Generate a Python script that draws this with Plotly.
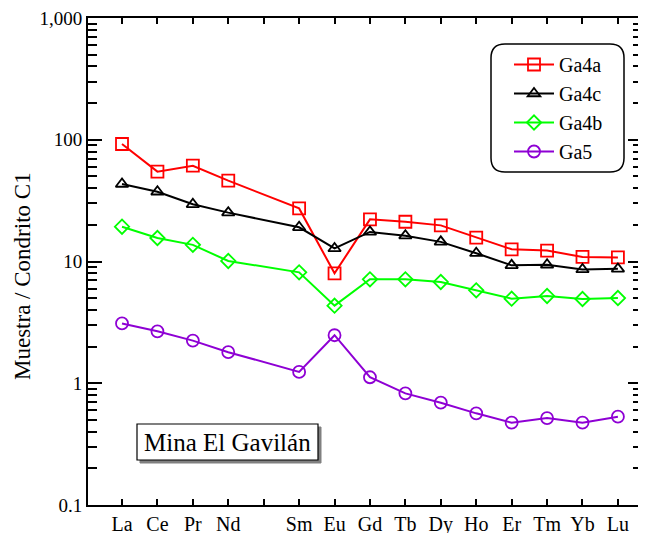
import plotly.graph_objects as go

elements = ["La", "Ce", "Pr", "Nd", "", "Sm", "Eu", "Gd", "Tb", "Dy", "Ho", "Er", "Tm", "Yb", "Lu"]
positions = [1, 2, 3, 4, 6, 7, 8, 9, 10, 11, 12, 13, 14, 15]

ga4a = [92.3, 54.7, 61.2, 46.1, 27.3, 8.0, 22.2, 21.2, 19.8, 15.7, 12.6, 12.3, 10.9, 10.8]
ga4c = [43.3, 37.4, 29.5, 25.2, 19.1, 12.8, 17.5, 16.3, 14.5, 11.7, 9.3, 9.4, 8.6, 8.7]
ga4b = [19.3, 15.6, 13.7, 10.1, 8.15, 4.34, 7.14, 7.14, 6.79, 5.80, 4.95, 5.21, 4.92, 5.01]
ga5 = [3.10, 2.67, 2.24, 1.80, 1.24, 2.48, 1.12, 0.826, 0.692, 0.566, 0.474, 0.518, 0.474, 0.531]

series = [
    ("Ga4a", ga4a, "#FF0000", "square-open", 12),
    ("Ga4c", ga4c, "#000000", "triangle-up-open", 11),
    ("Ga4b", ga4b, "#00FF00", "diamond-open", 11),
    ("Ga5", ga5, "#8E00D4", "circle-open", 12),
]

FONT = "Times New Roman, Liberation Serif, Tinos, serif"

# page body has an 8px margin: figure origin sits at (8, 8) in the window
OFF = 8
FW, FH = 646 - OFF, 533 - OFF
# plot area in window pixels
L, R, T, B = 88, 642, 18, 505
def fx(x): return (x - L) / (R - L)
def fy(y): return 1 - (y - T) / (B - T)

fig = go.Figure()
for name, vals, color, sym, size in series:
    fig.add_trace(go.Scatter(
        x=positions, y=vals, name=name, mode="lines+markers",
        line=dict(color=color, width=2),
        marker=dict(symbol=sym, size=size, color=color, line=dict(color=color, width=1.8)),
    ))

fig.update_layout(
    width=FW, height=FH,
    margin=dict(l=L - OFF, r=646 - R, t=T - OFF, b=533 - B),
    paper_bgcolor="white", plot_bgcolor="white",
    font=dict(family=FONT, size=18, color="black"),
    showlegend=True,
    legend=dict(
        x=fx(509), y=fy(45), xanchor="left", yanchor="top",
        bgcolor="rgba(0,0,0,0)", borderwidth=0,
        font=dict(family=FONT, size=20),
        tracegroupgap=0, itemwidth=40,
    ),
    xaxis=dict(
        range=[0.04, 15.68], automargin=False, ticklabeloverflow="allow",
        tickmode="array", tickvals=list(range(1, 16)), ticktext=elements,
        ticks="inside", ticklen=6, tickwidth=1.5, tickcolor="black",
        showline=True, linewidth=2, linecolor="black", mirror="ticks",
        showgrid=False, zeroline=False,
        tickfont=dict(family=FONT, size=20),
    ),
    yaxis=dict(
        type="log", range=[-1, 3], automargin=False, ticklabeloverflow="allow",
        tickmode="array", tickvals=[0.1, 1, 10, 100, 1000],
        ticktext=["0.1", "1", "10", "100", "1,000"],
        ticks="inside", ticklen=14, tickwidth=1.5, tickcolor="black",
        minor=dict(ticks="inside", ticklen=9, tickwidth=1.5, tickcolor="black",
                   dtick="D1", showgrid=False),
        showline=True, linewidth=2, linecolor="black", mirror="ticks",
        showgrid=False, zeroline=False,
        tickfont=dict(family=FONT, size=19),
    ),
)

# y-axis title
fig.add_annotation(
    xref="paper", yref="paper", x=fx(22), y=fy(276),
    text="Muestra / Condrito C1", textangle=-90, showarrow=False,
    font=dict(family=FONT, size=23, color="black"),
    xanchor="center", yanchor="middle",
)

# rounded legend frame
x0, x1, y0, y1, r = 491, 624, 44, 172, 14
path = (f"M {fx(x0+r)},{fy(y0)} L {fx(x1-r)},{fy(y0)} "
        f"Q {fx(x1)},{fy(y0)} {fx(x1)},{fy(y0+r)} L {fx(x1)},{fy(y1-r)} "
        f"Q {fx(x1)},{fy(y1)} {fx(x1-r)},{fy(y1)} L {fx(x0+r)},{fy(y1)} "
        f"Q {fx(x0)},{fy(y1)} {fx(x0)},{fy(y1-r)} L {fx(x0)},{fy(y0+r)} "
        f"Q {fx(x0)},{fy(y0)} {fx(x0+r)},{fy(y0)} Z")
fig.add_shape(type="path", xref="paper", yref="paper", path=path,
              line=dict(color="black", width=1.5), fillcolor="rgba(0,0,0,0)", layer="above")

# label box with shadow
bx0, bx1, by0, by1 = 137, 318, 424, 460
fig.add_shape(type="rect", xref="paper", yref="paper",
              x0=fx(bx0 + 3), x1=fx(bx1 + 3), y0=fy(by1 + 3), y1=fy(by0 + 3),
              line=dict(color="#808080", width=1), fillcolor="#808080", layer="above")
fig.add_shape(type="rect", xref="paper", yref="paper",
              x0=fx(bx0), x1=fx(bx1), y0=fy(by1), y1=fy(by0),
              line=dict(color="black", width=1.2), fillcolor="white", layer="above")
fig.add_annotation(
    xref="paper", yref="paper", x=fx((bx0 + bx1) / 2), y=fy((by0 + by1) / 2),
    text="Mina El Gavilán", showarrow=False,
    font=dict(family=FONT, size=25, color="black"),
    xanchor="center", yanchor="middle",
)

fig.write_html("out.html")
